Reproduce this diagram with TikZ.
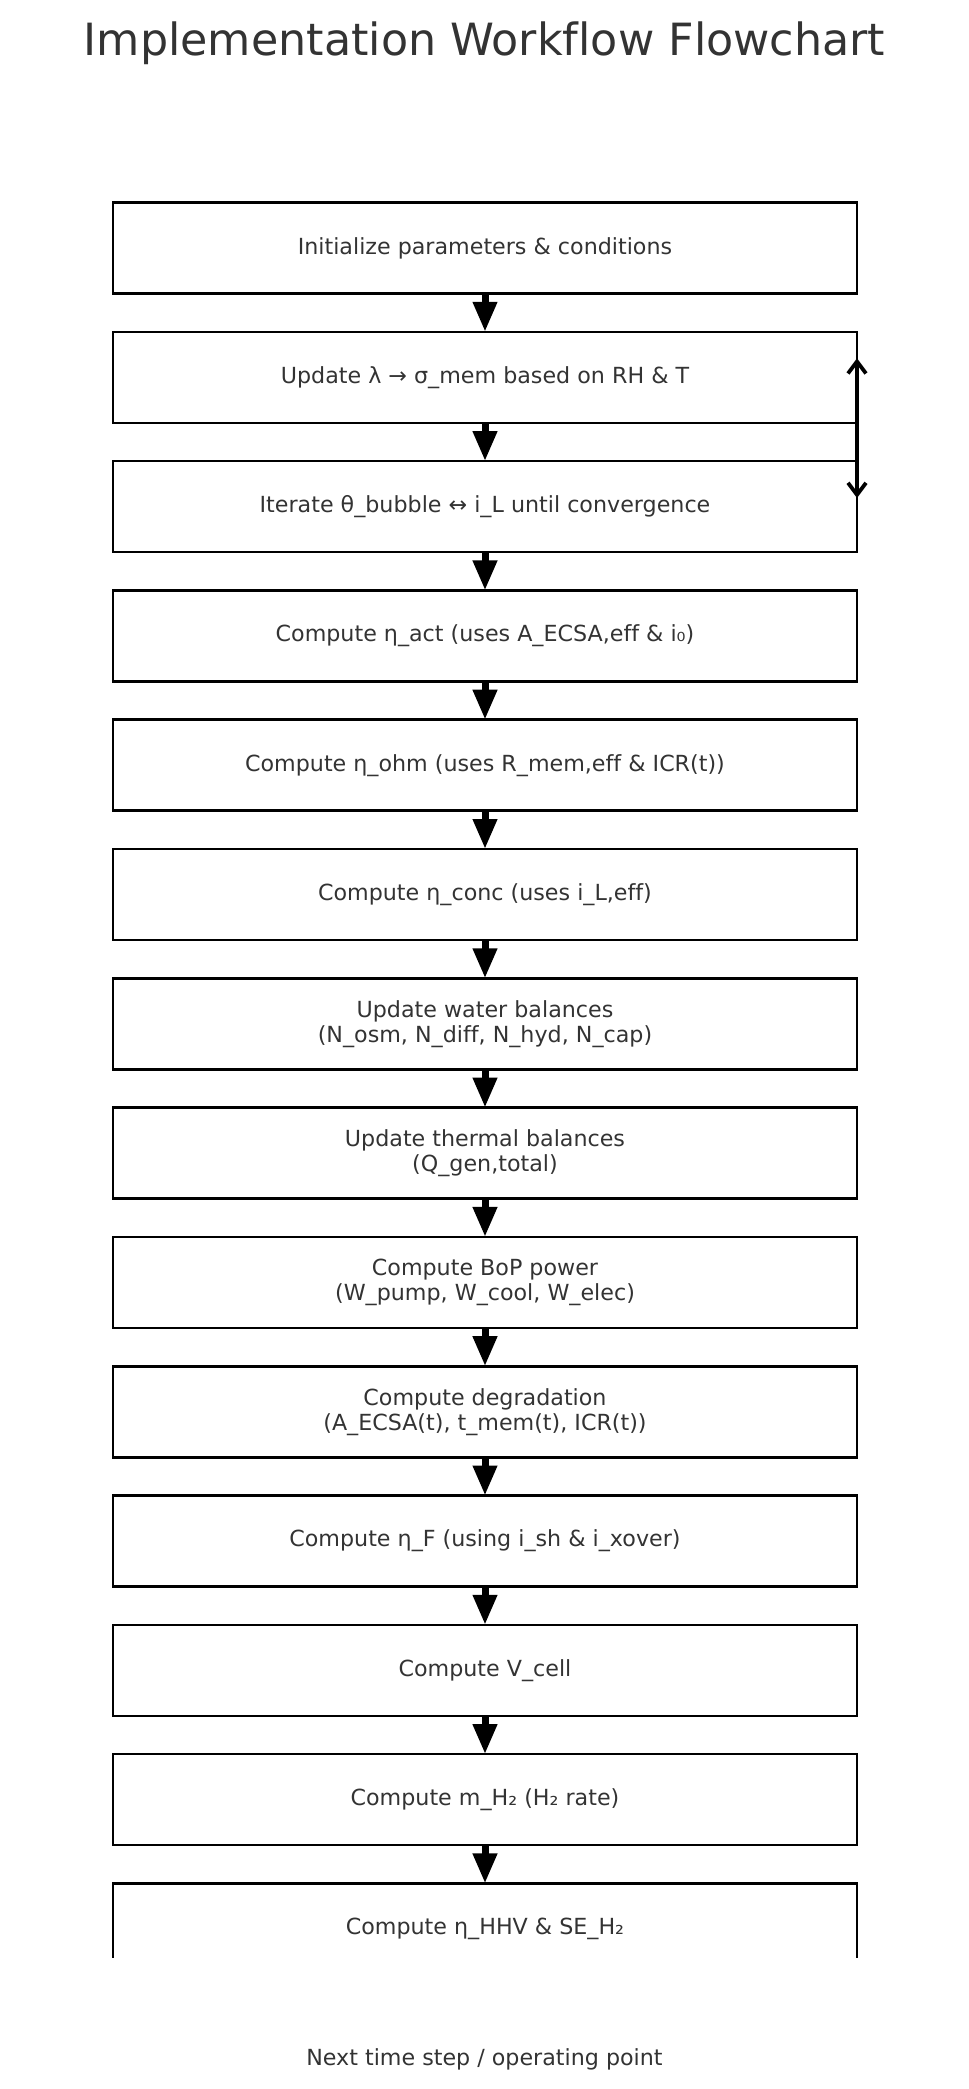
\documentclass[tikz,border=0pt]{standalone}
\usepackage{fontspec}
\setmainfont{DejaVu Sans}[Ligatures={NoCommon}]
\usetikzlibrary{arrows.meta,calc}
\definecolor{txt}{HTML}{333333}
\tikzset{
  stepbox/.style={draw=black, line width=2.6pt, minimum width=744pt, minimum height=91pt,
    inner sep=0pt, outer sep=0pt, text=txt, align=center,
    font=\fontsize{22.2}{25}\selectfont},
  flow/.style={line width=7pt, -{Triangle[length=30pt,width=23pt]}},
  loopback/.style={line width=3.8pt, {Straight Barb[length=12pt,width=18pt]}-{Straight Barb[length=12pt,width=18pt]}}
}
\begin{document}
\begin{tikzpicture}[x=1pt,y=-1pt]
\useasboundingbox (0,0) rectangle (969,2089);
\node[anchor=base, text=txt, font=\fontsize{44.4}{53}\selectfont] (title) at (484.5,55) {Implementation Workflow Flowchart};
\begin{scope}
\clip (0,0) rectangle (969,1957);
\node[stepbox] (b1) at (485,248.0) {Initialize parameters \& conditions};
\node[stepbox] (b2) at (485,377.3) {Update λ → σ\_mem based on RH \& T};
\node[stepbox] (b3) at (485,506.6) {Iterate θ\_bubble ↔ i\_L until convergence};
\node[stepbox] (b4) at (485,635.9) {Compute η\_act (uses A\_ECSA,eff \& i₀)};
\node[stepbox] (b5) at (485,765.2) {Compute η\_ohm (uses R\_mem,eff \& ICR(t))};
\node[stepbox] (b6) at (485,894.5) {Compute η\_conc (uses i\_L,eff)};
\node[stepbox] (b7) at (485,1023.8) {Update water balances\\(N\_osm, N\_diff, N\_hyd, N\_cap)};
\node[stepbox] (b8) at (485,1153.1) {Update thermal balances\\(Q\_gen,total)};
\node[stepbox] (b9) at (485,1282.4) {Compute BoP power\\(W\_pump, W\_cool, W\_elec)};
\node[stepbox] (b10) at (485,1411.7) {Compute degradation\\(A\_ECSA(t), t\_mem(t), ICR(t))};
\node[stepbox] (b11) at (485,1541.0) {Compute η\_F (using i\_sh \& i\_xover)};
\node[stepbox] (b12) at (485,1670.3) {Compute V\_cell};
\node[stepbox] (b13) at (485,1799.6) {Compute m\_H₂ (H₂ rate)};
\node[stepbox] (b14) at (485,1928.9) {Compute η\_HHV \& SE\_H₂};
\foreach \a/\b in {b1/b2,b2/b3,b3/b4,b4/b5,b5/b6,b6/b7,b7/b8,b8/b9,b9/b10,b10/b11,b11/b12,b12/b13,b13/b14}
  \draw[flow] (\a.south) -- (\b.north);
\coordinate (fbtop) at ($(b2.east)+(0,-19)$);
\coordinate (fbbot) at ($(b3.east)+(0,-8.6)$);
\draw[loopback] (fbtop) -- (fbbot);
\end{scope}
\node[text=txt, font=\fontsize{22.2}{26}\selectfont] (next) at (484.5,2059) {Next time step / operating point};
\end{tikzpicture}
\end{document}
